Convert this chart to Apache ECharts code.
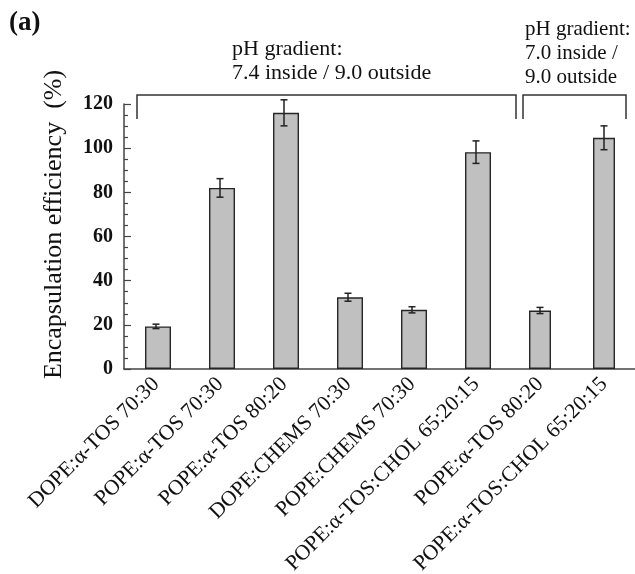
<!DOCTYPE html>
<html>
<head>
<meta charset="utf-8">
<script src="https://cdn.jsdelivr.net/npm/echarts@6/dist/echarts.min.js"></script>
<style>html,body{margin:0;padding:0;background:#fff;}#c{width:635px;height:574px;}</style>
</head>
<body>
<div id="c"></div>
<script>
const categories = ['DOPE:\u03b1-TOS 70:30','POPE:\u03b1-TOS 70:30','POPE:\u03b1-TOS 80:20','DOPE:CHEMS 70:30','POPE:CHEMS 70:30','POPE:\u03b1-TOS:CHOL 65:20:15','POPE:\u03b1-TOS 80:20','POPE:\u03b1-TOS:CHOL 65:20:15'];
const efficiency = [19.3, 82.0, 116.0, 32.5, 26.8, 98.2, 26.5, 104.7];
const errors = [1.0, 4.2, 5.9, 1.8, 1.4, 5.1, 1.4, 5.4];
const gradientGroup = [0, 0, 0, 0, 0, 0, 1, 1];
const groupLabels = ['pH gradient:\n7.4 inside / 9.0 outside', 'pH gradient:\n7.0 inside /\n9.0 outside'];
const yTicks = [0, 20, 40, 60, 80, 100, 120];

const serif = '"Liberation Serif", "Times New Roman", serif';
const chart = echarts.init(document.getElementById('c'));

const barStyle = { color: '#c0c0c0', borderColor: '#262626', borderWidth: 1.4 };

chart.setOption({
  animation: false,
  backgroundColor: '#ffffff',
  grid: { left: 124, top: 104, width: 512, bottom: 205, containLabel: false, outerBoundsMode: 'none' },
  xAxis: {
    type: 'category',
    data: categories,
    axisLine: { lineStyle: { color: '#444', width: 1.5 } },
    axisTick: { show: false },
    axisLabel: { rotate: 45, interval: 0, margin: 12, fontFamily: serif, fontSize: 21.5, color: '#111' }
  },
  yAxis: {
    type: 'value',
    min: yTicks[0], max: yTicks[yTicks.length - 1], interval: 20,
    name: 'Encapsulation efficiency  (%)',
    nameLocation: 'middle',
    nameGap: 57,
    nameTextStyle: { fontFamily: serif, fontSize: 26, color: '#111', padding: [0, 0, 0, 24] },
    axisLine: { show: true, lineStyle: { color: '#444', width: 1.5 } },
    axisTick: { show: true, inside: true, length: 7, lineStyle: { color: '#444', width: 1.2 } },
    minorTick: { show: true, splitNumber: 4, length: 4, lineStyle: { color: '#444', width: 1.2 } },
    splitLine: { show: false },
    axisLabel: { margin: 11, fontFamily: serif, fontSize: 20, fontWeight: 'bold', color: '#111' }
  },
  series: [
    {
      type: 'bar', barWidth: 26, barGap: '-100%',
      data: efficiency.map((v, i) => gradientGroup[i] === 0 ? v : null),
      itemStyle: barStyle
    },
    {
      type: 'bar', barWidth: 22, barGap: '-100%',
      data: efficiency.map((v, i) => gradientGroup[i] === 1 ? v : null),
      itemStyle: barStyle
    },
    {
      type: 'custom',
      z: 10,
      data: efficiency.map((v, i) => [i, v, errors[i]]),
      encode: { x: 0, y: 1 },
      renderItem: function (params, api) {
        const i = api.value(0), v = api.value(1), e = api.value(2);
        const top = api.coord([i, v + e]);
        const bot = api.coord([i, v - e]);
        const cap = 3.5;
        const st = { stroke: '#222', lineWidth: 1.5 };
        return {
          type: 'group',
          children: [
            { type: 'line', shape: { x1: top[0], y1: top[1], x2: bot[0], y2: bot[1] }, style: st },
            { type: 'line', shape: { x1: top[0] - cap, y1: top[1], x2: top[0] + cap, y2: top[1] }, style: st },
            { type: 'line', shape: { x1: bot[0] - cap, y1: bot[1], x2: bot[0] + cap, y2: bot[1] }, style: st }
          ]
        };
      }
    }
  ],
  graphic: [
    { type: 'text', left: 9, top: 10, style: { text: '(a)', fontFamily: serif, fontSize: 27, fontWeight: 'bold', fill: '#111' } },
    { type: 'text', left: 232, top: 37, style: { text: groupLabels[0], fontFamily: serif, fontSize: 22, lineHeight: 24, fill: '#111' } },
    { type: 'text', left: 525, top: 17, style: { text: groupLabels[1], fontFamily: serif, fontSize: 21, lineHeight: 24, fill: '#111' } },
    { type: 'polyline', shape: { points: [[137, 119], [137, 95], [516, 95], [516, 119]] }, style: { stroke: '#333', lineWidth: 1.5, fill: null } },
    { type: 'polyline', shape: { points: [[523, 119], [523, 95], [626, 95], [626, 119]] }, style: { stroke: '#333', lineWidth: 1.5, fill: null } }
  ]
});
</script>
</body>
</html>
